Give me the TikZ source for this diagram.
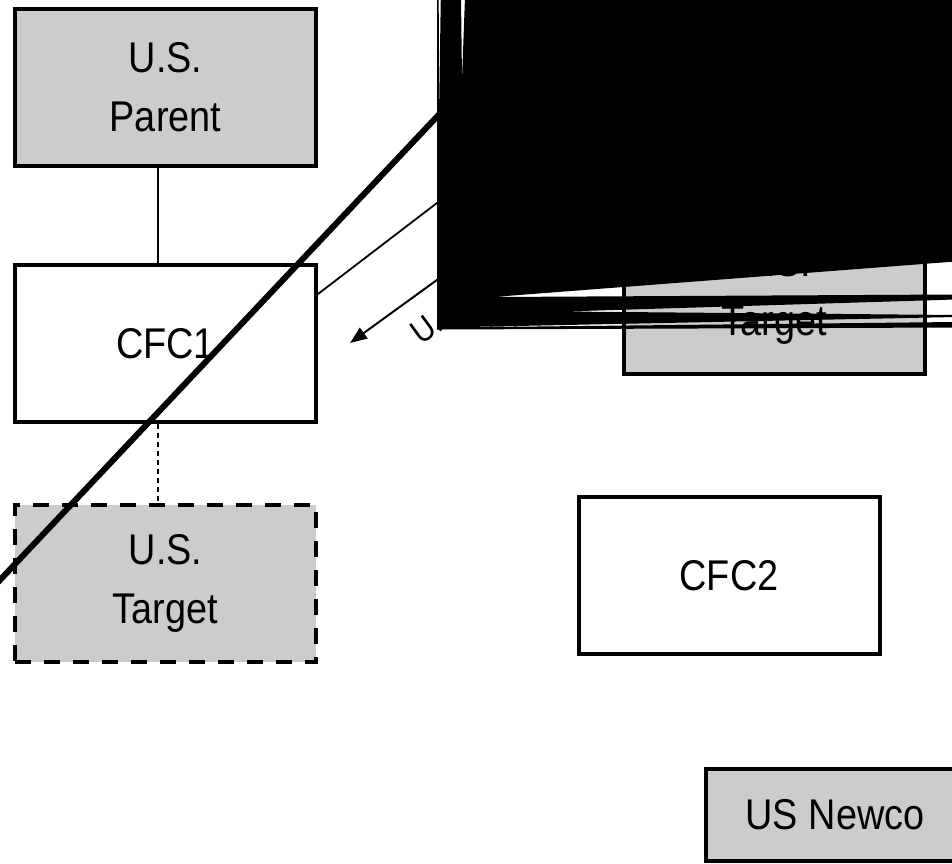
\documentclass[tikz,border=0pt]{standalone}
\usepackage{fontspec}
\setmainfont{Liberation Sans}[FakeStretch=0.88]
\usetikzlibrary{arrows.meta}
\definecolor{boxgray}{RGB}{204,204,204}
\begin{document}
\begin{tikzpicture}[x=1pt,y=-1pt,
  ent/.style={draw=black, line width=4pt, minimum width=301pt, minimum height=157pt,
    inner sep=0pt, align=center, font=\fontsize{43}{59}\selectfont},
  grayent/.style={ent, fill=boxgray},
  dashent/.style={grayent, dash pattern=on 16pt off 13pt},
  link/.style={line width=1.8pt},
  dotlink/.style={line width=1.8pt, dash pattern=on 5pt off 4pt},
  crossline/.style={line width=6pt},
  arrowlink/.style={line width=2pt, -{Triangle[length=17pt,width=13pt]}},
  blob/.style={fill=black, even odd rule}]
\useasboundingbox (0,0) rectangle (952,863);
\clip (0,0) rectangle (952,863);
% boxes
\node[grayent] (parent) at (165.5,87) {U.S.\\Parent};
\node[ent] (cfc1) at (165.5,343.5) {CFC1};
\node[dashent] (tgtL) at (165.5,583) {U.S.\\Target};
\node[grayent] (tgtR) at (774.5,295) {U.S.\\Target};
\node[ent] (cfc2) at (729,575.5) {CFC2};
\node[grayent, minimum width=258pt, minimum height=92pt] (newco) at (835,815) {US Newco};
% connectors
\draw[link] ([xshift=-7.5pt]parent.south) -- ([xshift=-7.5pt]cfc1.north);
\draw[dotlink] ([xshift=-7.5pt]cfc1.south) -- ([xshift=-7.5pt]tgtL.north);
\coordinate (lineEnd) at (470,177.7);
\draw[link] ([yshift=49.5pt]cfc1.east) -- (lineEnd);
\coordinate (arrStart) at (470,256);
\coordinate (arrTip) at (350,343);
\draw[arrowlink] (arrStart) -- (arrTip);
\node[rotate=36, anchor=base west, font=\fontsize{34}{40}\selectfont, inner sep=0pt] (ulab) at (421,346) {U.};
\coordinate (crossA) at (-10,590.6);
\coordinate (crossB) at (480,71);
\draw[crossline] (crossA) -- (crossB);
% black blob
\path[blob] (437,-3) -- (955,-3) -- (955,327.5) -- (437,329.5) -- cycle
  (493,297) -- (955,261.5) -- (955,294.5) -- cycle
  (565,311.5) -- (955,299.5) -- (955,315) -- cycle
  (443,327.5) -- (955,317) -- (955,322) -- cycle
  (438.7,-3) -- (440.8,-3) -- (439,115) -- cycle
  (461,-3) -- (465,-3) -- (462,80) -- cycle;
\end{tikzpicture}
\end{document}
